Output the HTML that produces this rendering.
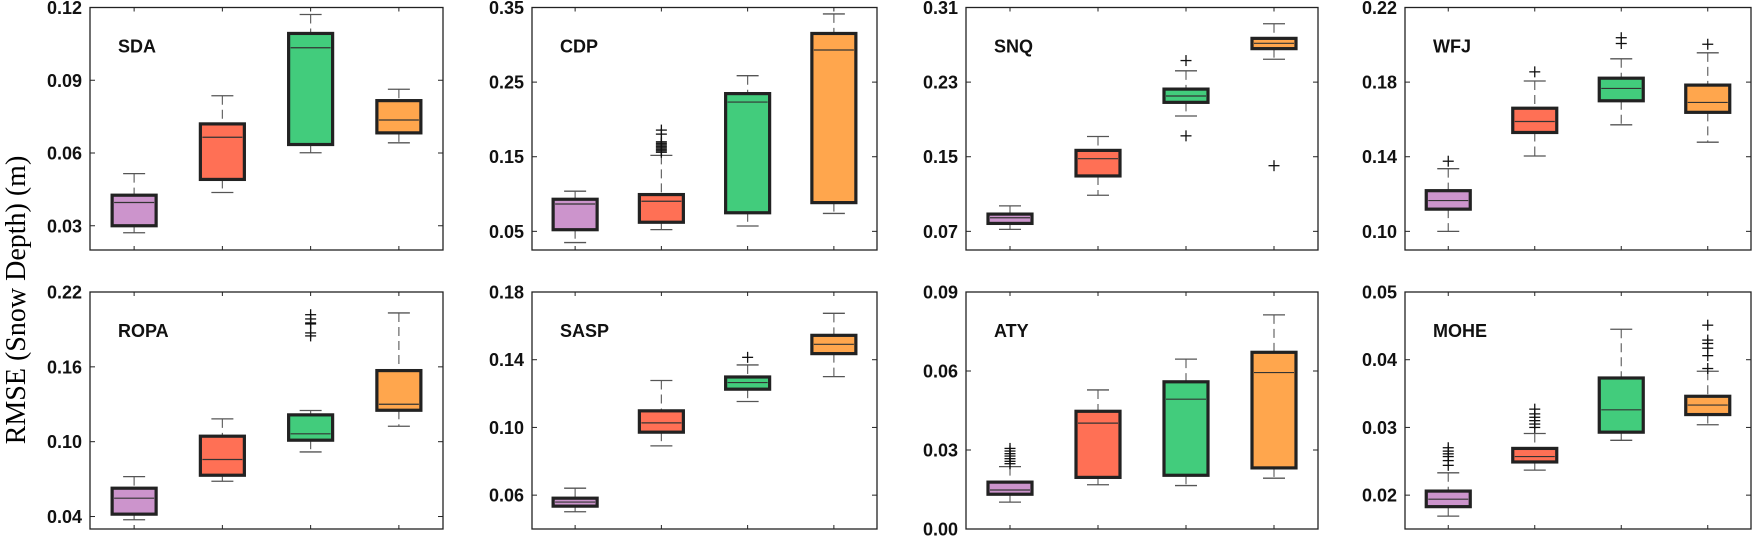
<!DOCTYPE html>
<html><head><meta charset="utf-8"><style>
html,body{margin:0;padding:0;background:#fff;width:1752px;height:538px;overflow:hidden}
svg text{font-family:"Liberation Sans",Arial,sans-serif}
</style></head><body>
<svg id="chart" width="1752" height="538" viewBox="0 0 1752 538" xmlns="http://www.w3.org/2000/svg">
<text x="0" y="0" transform="translate(25,300) rotate(-90)" text-anchor="middle" font-size="28" style="font-family:'Liberation Serif',serif">RMSE (Snow Depth) (m)</text>
</svg>
<script>
const siteNames = ["SDA","CDP","SNQ","WFJ","ROPA","SASP","ATY","MOHE"];
const yMins = [0.02,0.025,0.05,0.09,0.03,0.04,0.0,0.015];
const yMaxs = [0.12,0.35,0.31,0.22,0.22,0.18,0.09,0.05];
const yTicks = [[0.03,0.06,0.09,0.12],[0.05,0.15,0.25,0.35],[0.07,0.15,0.23,0.31],[0.10,0.14,0.18,0.22],[0.04,0.10,0.16,0.22],[0.06,0.10,0.14,0.18],[0.00,0.03,0.06,0.09],[0.02,0.03,0.04,0.05]];
// per site: [low whisker, q1, median, q3, high whisker] for 4 groups
const boxStats = [
 [[0.0271,0.030,0.0396,0.0426,0.0515],[0.0437,0.0491,0.0665,0.072,0.0836],[0.0601,0.0635,0.1034,0.1093,0.1171],[0.0642,0.0683,0.0736,0.0816,0.0863]],
 [[0.035,0.0522,0.0866,0.093,0.1038],[0.0523,0.0622,0.0903,0.0993,0.1518],[0.0572,0.0749,0.2233,0.2346,0.2586],[0.074,0.0885,0.293,0.3152,0.3414]],
 [[0.0721,0.0785,0.0846,0.0885,0.0973],[0.1087,0.1294,0.1479,0.1568,0.1717],[0.1937,0.2083,0.2151,0.2225,0.2421],[0.2545,0.2659,0.2716,0.2769,0.2926]],
 [[0.100,0.1119,0.1165,0.1218,0.1336],[0.1404,0.153,0.1589,0.166,0.1806],[0.1571,0.170,0.1766,0.1821,0.1925],[0.1478,0.1638,0.1691,0.1784,0.1957]],
 [[0.0374,0.0419,0.0547,0.0627,0.072],[0.0683,0.0731,0.0857,0.1044,0.1183],[0.0918,0.1012,0.1063,0.1215,0.125],[0.1124,0.1252,0.130,0.157,0.2032]],
 [[0.0502,0.0535,0.0559,0.0582,0.0641],[0.0891,0.0972,0.1027,0.1098,0.1277],[0.1153,0.1226,0.1265,0.1298,0.1369],[0.130,0.1436,0.1491,0.1544,0.1674]],
 [[0.0102,0.0132,0.0148,0.0178,0.0237],[0.0168,0.0196,0.0402,0.0447,0.0528],[0.0165,0.0204,0.0493,0.0559,0.0645],[0.0193,0.0232,0.0594,0.0671,0.0813]],
 [[0.0169,0.0183,0.0194,0.0206,0.0233],[0.0237,0.0249,0.0257,0.0269,0.0291],[0.0281,0.0293,0.0326,0.0373,0.0445],[0.0304,0.0319,0.0333,0.0346,0.0383]]
];
const outlierVals = [
 [[],[],[],[]],
 [[],[0.1857,0.1803,0.170,0.168,0.166,0.164,0.162,0.160,0.158,0.156],[],[]],
 [[],[],[0.2531,0.1724],[0.1404]],
 [[0.1376],[0.1855],[0.2038,0.2007],[0.2003]],
 [[],[],[0.2018,0.1984,0.1952,0.1944,0.1872,0.1848],[]],
 [[],[],[0.1414],[]],
 [[0.0306,0.0296,0.0286,0.0277,0.0267,0.0257,0.0248],[],[],[]],
 [[0.027,0.0265,0.0261,0.0257,0.0251,0.0244],[0.0327,0.032,0.0315,0.031,0.0305,0.030],[],[0.0451,0.0429,0.0424,0.0417,0.0406,0.0387]]
];
const groupColors = ["#cc94cc","#ff7055","#42cc7c","#ffa64d"];
const panelLefts=[90,532,966,1405], panelWidths=[353,345,352,346];
const rowTops=[7.5,292], rowBottoms=[250,529];
const NS="http://www.w3.org/2000/svg";
const svg=document.getElementById('chart');
function mk(tag,attrs,parent){const e=document.createElementNS(NS,tag);for(const k in attrs)e.setAttribute(k,attrs[k]);(parent||svg).appendChild(e);return e;}
siteNames.forEach((name,p)=>{
  const col=p%4,row=Math.floor(p/4);
  const L=panelLefts[col],W=panelWidths[col],T=rowTops[row],B=rowBottoms[row];
  const yS=v=>B-(v-yMins[p])/(yMaxs[p]-yMins[p])*(B-T);
  const xS=i=>L+(i+0.5)*W/4;
  const g=mk('g',{});
  
  
  const fr=mk('rect',{x:L,y:T,width:W,height:B-T,fill:'#fff',stroke:'#222','stroke-width':1.3},g);
  
  
  yTicks[p].forEach(t=>{
    const y=yS(t);
    mk('line',{x1:L,x2:L+5,y1:y,y2:y,stroke:'#222'},g);
    mk('line',{x1:L+W-5,x2:L+W,y1:y,y2:y,stroke:'#222'},g);
    const tx=mk('text',{x:L-8,y:y+6.5,'text-anchor':'end','font-size':18,'font-weight':'bold',fill:'#111'},g);
    tx.textContent=t.toFixed(2);
    
    
  });
  for(let i=0;i<4;i++){
    const x=xS(i);
    mk('line',{x1:x,x2:x,y1:T,y2:T+4,stroke:'#222'},g);
    mk('line',{x1:x,x2:x,y1:B-4,y2:B,stroke:'#222'},g);
  }
  const tt=mk('text',{x:L+28,y:T+45,'font-size':18,'font-weight':'bold',fill:'#111'},g);
  tt.textContent=name;
  
  
  boxStats[p].forEach((s,i)=>{
    const x=xS(i),bw=44,cw=22;
    const bg=mk('g',{},g);
    
    
    mk('line',{x1:x,x2:x,y1:yS(s[4]),y2:yS(s[3]),stroke:'#666','stroke-width':1.2,'stroke-dasharray':'9,5'},bg);
    mk('line',{x1:x,x2:x,y1:yS(s[1]),y2:yS(s[0]),stroke:'#666','stroke-width':1.2,'stroke-dasharray':'9,5'},bg);
    mk('line',{x1:x-cw/2,x2:x+cw/2,y1:yS(s[4]),y2:yS(s[4]),stroke:'#555','stroke-width':1.3},bg);
    mk('line',{x1:x-cw/2,x2:x+cw/2,y1:yS(s[0]),y2:yS(s[0]),stroke:'#555','stroke-width':1.3},bg);
    mk('rect',{x:x-bw/2,y:yS(s[3]),width:bw,height:yS(s[1])-yS(s[3]),fill:groupColors[i],stroke:'#222','stroke-width':3.2},bg);
    mk('line',{x1:x-bw/2+2,x2:x+bw/2-2,y1:yS(s[2]),y2:yS(s[2]),stroke:'#333','stroke-width':1.2},bg);
    outlierVals[p][i].forEach(v=>{
      const y=yS(v);
      mk('line',{x1:x-5.5,x2:x+5.5,y1:y,y2:y,stroke:'#111','stroke-width':1.3},bg);
      mk('line',{x1:x,x2:x,y1:y-5.5,y2:y+5.5,stroke:'#111','stroke-width':1.3},bg);
    });
  });
});
</script>
</body></html>
